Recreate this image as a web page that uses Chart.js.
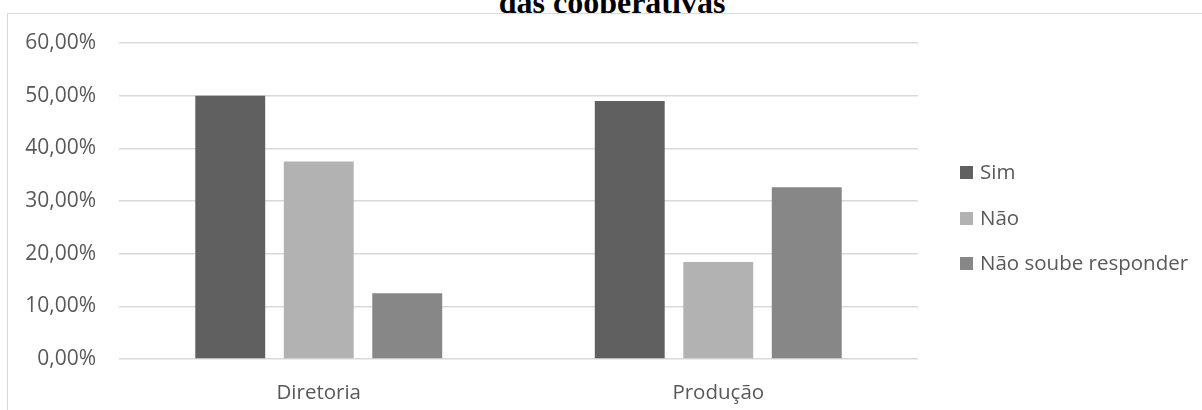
<!DOCTYPE html>
<html>
<head>
<meta charset="utf-8">
<script src="https://cdn.jsdelivr.net/npm/chart.js@4"></script>
<style>
  html, body { margin: 0; padding: 0; background: #fff; width: 1202px; height: 410px; overflow: hidden; }
  #title { position: absolute; left: 0; width: 1224px; top: -14px; text-align: center; font: bold 32px "Liberation Serif", "Times New Roman", serif; line-height: 32px; color: #000; white-space: nowrap; z-index: 1; }
  #box { position: absolute; left: 7px; top: 13px; width: 1300px; height: 500px; background: #fff; border-left: 1px solid #d9d9d9; border-top: 1px solid #d9d9d9; z-index: 2; }
  #wrap { position: absolute; left: 0; top: 0; width: 1202px; height: 410px; z-index: 3; }
</style>
</head>
<body>
<div id="title">das cooperativas</div>
<div id="box"></div>
<div id="wrap"><canvas id="c"></canvas></div>
<script>
const categories = ["Diretoria", "Produção"];
const seriesNames = ["Sim", "Não", "Não soube responder"];
const simValues = [50.0, 49.0];
const naoValues = [37.5, 18.4];
const naoSoubeValues = [12.5, 32.6];
const yTicks = [0, 10, 20, 30, 40, 50, 60];

const colors = ["#606060", "#b2b2b2", "#878787"];
const textColor = "#595959";
const fontFamily = '"Open Sans", "Noto Sans", sans-serif';

const legendPlugin = {
  id: 'customLegend',
  afterDraw(chart) {
    const ctx = chart.ctx;
    const x0 = 960, box = 13, rows = [172.5, 218, 263.5];
    ctx.save();
    ctx.font = '20.5px ' + fontFamily;
    ctx.textBaseline = 'middle';
    ctx.textAlign = 'left';
    chart.data.datasets.forEach((ds, i) => {
      const y = rows[i];
      ctx.fillStyle = ds.backgroundColor;
      ctx.fillRect(x0, Math.round(y - box / 2), box, box);
      ctx.fillStyle = textColor;
      ctx.fillText(ds.label, x0 + 20, y + 1);
    });
    ctx.restore();
  }
};

new Chart(document.getElementById('c'), {
  type: 'bar',
  data: {
    labels: categories,
    datasets: [
      { label: seriesNames[0], data: simValues, backgroundColor: colors[0] },
      { label: seriesNames[1], data: naoValues, backgroundColor: colors[1] },
      { label: seriesNames[2], data: naoSoubeValues, backgroundColor: colors[2] }
    ]
  },
  options: {
    responsive: true,
    maintainAspectRatio: false,
    animation: false,
    layout: { padding: { left: 0, right: 284, top: 43, bottom: 0 } },
    datasets: { bar: { categoryPercentage: 0.6646, barPercentage: 0.79 } },
    plugins: { legend: { display: false }, title: { display: false }, tooltip: { enabled: false } },
    scales: {
      x: {
        grid: { display: false, drawTicks: false },
        border: { display: false },
        ticks: { color: textColor, font: { family: fontFamily, size: 20.5 }, padding: 22 },
        afterFit: s => { s.height = 51; }
      },
      y: {
        min: 0, max: 60,
        afterBuildTicks: s => { s.ticks = yTicks.map(v => ({ value: v })); },
        grid: { color: '#d9d9d9', lineWidth: 1.5, drawTicks: false },
        border: { display: false },
        ticks: {
          color: textColor, font: { family: fontFamily, size: 21 }, padding: 23,
          callback: v => v.toFixed(2).replace('.', ',') + '%'
        },
        afterFit: s => { s.width = 119; }
      }
    }
  },
  plugins: [legendPlugin]
});
</script>
</body>
</html>
